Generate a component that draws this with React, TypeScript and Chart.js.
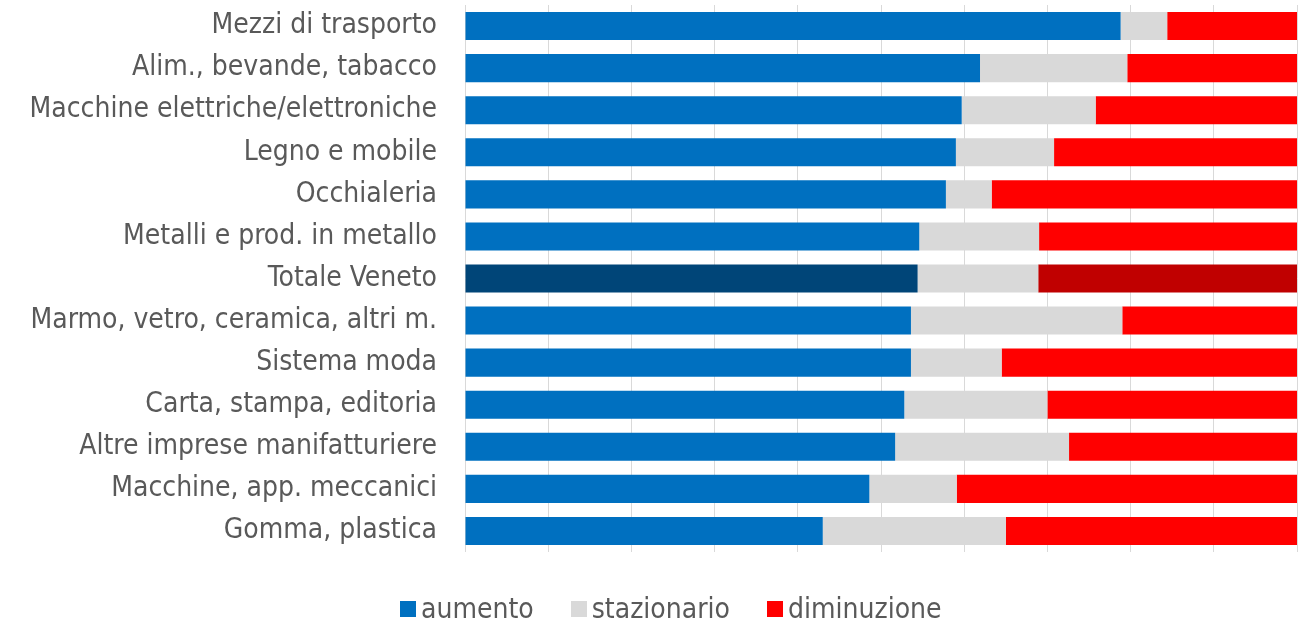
import React, { useEffect, useRef } from "react";
import { Chart, registerables } from "chart.js";

Chart.register(...registerables);

const categories = [
  "Mezzi di trasporto",
  "Alim., bevande, tabacco",
  "Macchine elettriche/elettroniche",
  "Legno e mobile",
  "Occhialeria",
  "Metalli e prod. in metallo",
  "Totale Veneto",
  "Marmo, vetro, ceramica, altri m.",
  "Sistema moda",
  "Carta, stampa, editoria",
  "Altre imprese manifatturiere",
  "Macchine, app. meccanici",
  "Gomma, plastica",
];

const aumento = [78.8, 61.9, 59.7, 59.0, 57.8, 54.6, 54.4, 53.6, 53.6, 52.8, 51.7, 48.6, 43.0];
const stazionario = [5.6, 17.7, 16.1, 11.8, 5.5, 14.4, 14.5, 25.4, 10.9, 17.2, 20.9, 10.5, 22.0];
const diminuzione = [15.6, 20.4, 24.2, 29.2, 36.7, 31.0, 31.1, 21.0, 35.5, 30.0, 27.4, 40.9, 35.0];

const seriesNames = ["aumento", "stazionario", "diminuzione"];
const seriesColors = ["#0070C0", "#D9D9D9", "#FF0000"];
const highlightColors = ["#004578", "#D9D9D9", "#C00000"];

const highlight = "Totale Veneto";
const FONT = "'DejaVu Sans Condensed', 'DejaVu Sans', sans-serif";

function colors(i: number) {
  return categories.map((c) => (c === highlight ? highlightColors[i] : seriesColors[i]));
}

export default function App() {
  const ref = useRef<HTMLCanvasElement>(null);
  useEffect(() => {
    if (!ref.current) return;
    const values = [aumento, stazionario, diminuzione];
    const chart = new Chart(ref.current, {
      type: "bar",
      data: {
        labels: categories,
        datasets: values.map((d, i) => ({
          label: seriesNames[i],
          data: d,
          backgroundColor: colors(i),
        })),
      },
      options: {
        indexAxis: "y",
        animation: false,
        responsive: true,
        maintainAspectRatio: false,
        datasets: { bar: { categoryPercentage: 0.667, barPercentage: 1 } },
        layout: { padding: { top: 5, right: 9, left: 0, bottom: 73 } },
        scales: {
          x: {
            stacked: true,
            min: 0,
            max: 100,
            ticks: { display: false, stepSize: 10 },
            grid: { color: "#D9D9D9", lineWidth: 1, drawTicks: false },
            border: { display: false },
          },
          y: {
            stacked: true,
            ticks: { color: "#595959", font: { family: FONT, size: 28 }, padding: 28 },
            grid: { display: false, drawTicks: false },
            border: { display: false },
            afterFit: (s: any) => {
              s.width = 465;
              s.paddingTop = 0;
              s.paddingBottom = 0;
            },
          },
        },
        plugins: {
          legend: { display: false },
          tooltip: { enabled: false },
        },
      },
    });
    return () => chart.destroy();
  }, []);
  return (
    <div style={{ position: "absolute", left: 0, top: 0, width: 1306, height: 625 }}>
      <canvas ref={ref} />
      <div
        style={{
          position: "absolute",
          left: 400,
          top: 592,
          height: 34,
          display: "flex",
          alignItems: "center",
          fontFamily: FONT,
          fontSize: 28,
          color: "#595959",
          lineHeight: "34px",
          whiteSpace: "nowrap",
        }}
      >
        {seriesNames.map((n, i) => (
          <div key={n} style={{ display: "flex", alignItems: "center", marginRight: i < 2 ? 37 : 0 }}>
            <span
              style={{
                display: "inline-block",
                width: 16,
                height: 16,
                background: seriesColors[i],
                marginRight: 5,
              }}
            />
            <span>{n}</span>
          </div>
        ))}
      </div>
    </div>
  );
}
